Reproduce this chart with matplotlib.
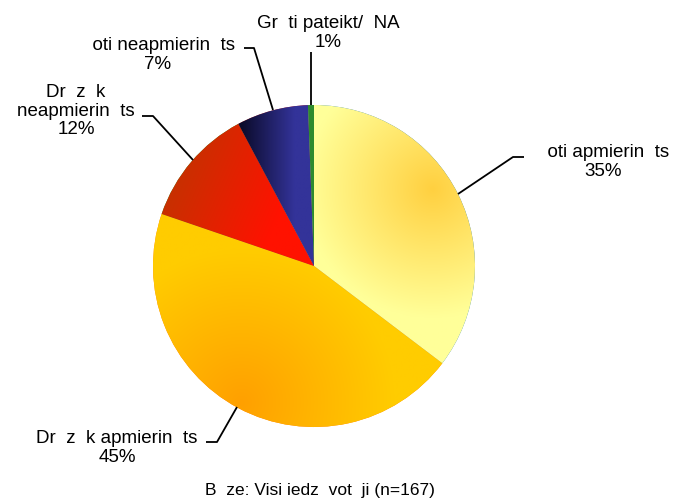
import numpy as np
import matplotlib
matplotlib.use("Agg")
import matplotlib.pyplot as plt
from matplotlib.colors import to_rgb

# ---- data ----
categories = ["  oti apmierin  ts", "Dr  z  k apmierin  ts", "Dr  z  k\nneapmierin  ts",
              "  oti neapmierin  ts", "Gr  ti pateikt/  NA"]
counts = [59, 75, 20, 12, 1]
base_note = "B  ze: Visi iedz  vot  ji (n=167)"

# ---- layout (pixel space, y measured from top) ----
W, H = 675, 500
CX, CY, R = 314, 266, 161
label_pos = [(603, 162), (117, 448), (76, 111), (158, 55), (328, 33)]
leaders = [
    [(458, 194), (513, 157), (524, 157)],
    [(237, 407), (217, 442), (206, 442)],
    [(193, 160), (153, 116), (142, 116)],
    [(273, 110), (254, 48), (244, 48)],
    [(311, 105), (311, 52)],
]

# gradient specs per wedge: (kind, params, color_a, color_b)
grads = [
    ("radial", (0.74, 0.48, 0.80), "#FFD040", "#FFFF99"),
    ("radial", (-0.45, -0.85, 0.95), "#FFA000", "#FFCC00"),
    ("linear", ((-0.95, 0.55), (-0.25, 0.25)), "#C03400", "#FF1200"),
    ("linear", ((-0.45, 0.0), (-0.12, 0.0)), "#0C0C2C", "#333399"),
    ("linear", ((0.0, 0.0), (0.02, 0.0)), "#2E8B2E", "#2E8B2E"),
]

def Y(y):
    return H - y

fig = plt.figure(figsize=(6.75, 5), dpi=100)
ax = fig.add_axes([0, 0, 1, 1])
ax.set_xlim(0, W)
ax.set_ylim(0, H)
ax.set_aspect("equal")
ax.axis("off")

total = sum(counts)
wedges, _ = ax.pie(counts, startangle=90, counterclock=False,
                   center=(CX, Y(CY)), radius=R, frame=True,
                   wedgeprops=dict(linewidth=0, edgecolor="none"))
ax.set_xlim(0, W)
ax.set_ylim(0, H)
ax.axis("off")

# gradient fill clipped to each wedge
n = 400
xs = np.linspace(-1, 1, n)
ys = np.linspace(1, -1, n)
GX, GY = np.meshgrid(xs, ys)
for w, (kind, p, ca, cb) in zip(wedges, grads):
    if kind == "radial":
        px, py, rad = p
        t = np.sqrt((GX - px) ** 2 + (GY - py) ** 2) / rad
    else:
        (x0, y0), (x1, y1) = p
        dx, dy = x1 - x0, y1 - y0
        t = ((GX - x0) * dx + (GY - y0) * dy) / (dx * dx + dy * dy)
    t = np.clip(t, 0, 1)[..., None]
    a = np.array(to_rgb(ca)); b = np.array(to_rgb(cb))
    img = a * (1 - t) + b * t
    im = ax.imshow(img, extent=(CX - R, CX + R, Y(CY) - R, Y(CY) + R),
                   zorder=2, interpolation="bilinear")
    im.set_clip_path(w)
ax.set_xlim(0, W)
ax.set_ylim(0, H)

# labels
font = ["Liberation Sans", "DejaVu Sans"]
for cat, c, (lx, ly) in zip(categories, counts, label_pos):
    pct = round(c / total * 100)
    ax.text(lx, Y(ly), f"{cat}\n{pct}%", ha="center", va="center",
            multialignment="center", fontsize=13.5, family=font,
            linespacing=1.12, zorder=5)

for pts in leaders:
    xs_l = [p[0] for p in pts]
    ys_l = [Y(p[1]) for p in pts]
    ax.plot(xs_l, ys_l, color="black", lw=1.3, zorder=4, solid_capstyle="butt")

ax.text(320, Y(490), base_note, ha="center", va="center", fontsize=12.5, family=font)

fig.savefig("out.png", dpi=100)
